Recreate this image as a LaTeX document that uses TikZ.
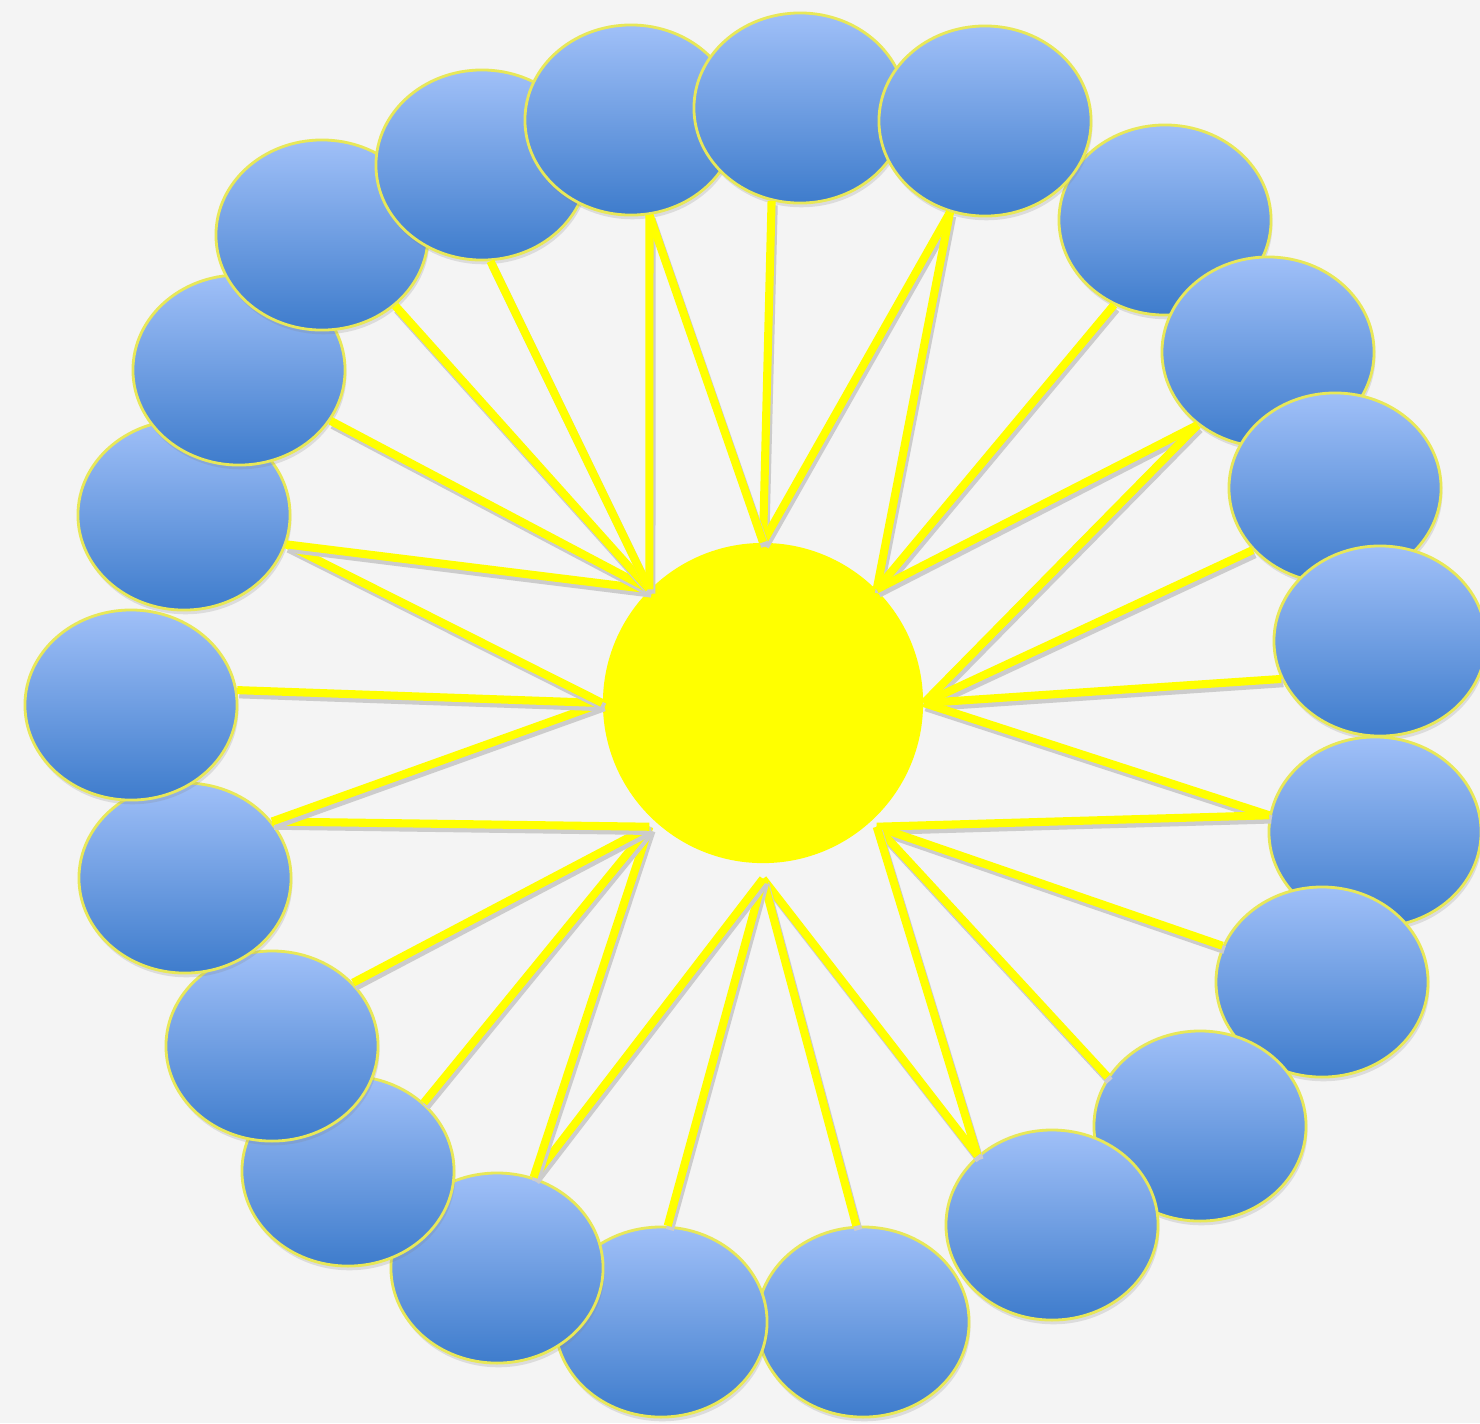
\documentclass[tikz,border=0pt]{standalone}
\usepackage{tikz}
\usetikzlibrary{shapes.geometric,shadows}
\definecolor{petaltop}{RGB}{160,192,248}
\definecolor{petalbot}{RGB}{62,124,204}
\definecolor{petalrim}{RGB}{232,232,88}
\definecolor{sunyellow}{RGB}{255,255,0}
\definecolor{paper}{RGB}{244,244,244}

\begin{document}
\begin{tikzpicture}[
  x=0.01cm, y=-0.01cm,
  petal/.style={ellipse, draw=petalrim, line width=0.8pt, top color=petaltop, bottom color=petalbot,
    minimum width=2.12cm, minimum height=1.9cm, inner sep=0pt,
    drop shadow={shadow xshift=0.4pt, shadow yshift=-1.2pt, opacity=0.2}},
  hub/.style={circle, fill=sunyellow, minimum size=3.2cm, inner sep=0pt},
  spoke/.style={draw=sunyellow, line width=2.3pt},
  spokeshade/.style={draw=black!20, line width=2.3pt, transform canvas={shift={(0.6pt,-1.2pt)}}}
]
\fill[paper] (0,0) rectangle (1480,1423);
\useasboundingbox (0,0) rectangle (1480,1423);
% petals, drawn in stacking order
\foreach \i/\x/\y in {1/1165/220,2/1268/352,3/1335/488,4/1380/641,5/1375/832,6/1322/982,
  7/1200/1126,8/1052/1225,9/863/1322,10/661/1322,11/497/1268,12/348/1171,13/272/1046,
  14/185/878,15/131/705,16/184/515,17/239/370,18/322/235,19/482/165,20/631/120,
  21/800/108,22/985/121} {
  \node[petal] (p\i) at (\x,\y) {};
}
\node[hub] (sun) at (763,703) {};
\coordinate (hubSE) at ([yshift=-0.1cm]sun.south east);
\coordinate (hubS) at ([yshift=-0.15cm]sun.south);
\coordinate (hubSW) at ([yshift=-0.1cm]sun.south west);
% spokes: petal / border angle / hub point
\foreach \p/\a/\t in {21/253/sun.north,22/249/sun.north,22/249/sun.north east,1/239/sun.north east,
  2/226/sun.north east,2/226/sun.east,3/217/sun.east,4/201/sun.east,5/171/sun.east,5/171/hubSE,
  6/160/hubSE,7/152/hubSE,8/137/hubSE,8/137/hubS,9/94/hubS,10/86/hubS,11/68/hubS,11/68/hubSW,
  12/42/hubSW,13/38/hubSW,14/33/hubSW,14/33/sun.west,15/8/sun.west,16/344/sun.west,
  16/344/sun.north west,17/331/sun.north west,18/316/sun.north west,19/275/sun.north west,
  20/281/sun.north west,20/281/sun.north} {
  \draw[spokeshade] (p\p.\a) -- (\t);
  \draw[spoke] (p\p.\a) -- (\t);
}
\end{tikzpicture}
\end{document}
